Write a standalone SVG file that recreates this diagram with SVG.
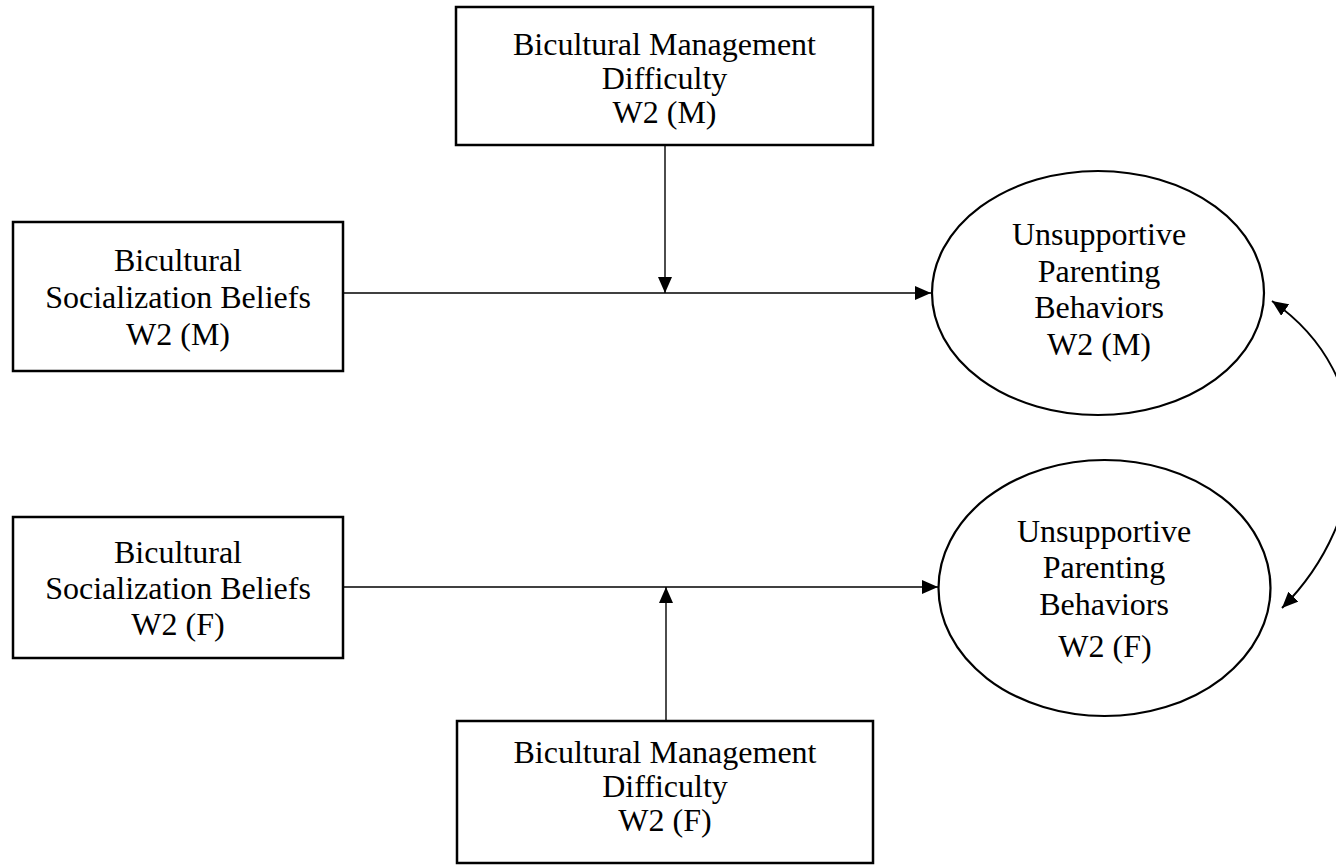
<svg xmlns="http://www.w3.org/2000/svg" width="1336" height="866" viewBox="0 0 1336 866">
  <style>
    .box { fill: #ffffff; stroke: #000000; stroke-width: 2.5; }
    .oval { fill: #ffffff; stroke: #000000; stroke-width: 2.2; }
    .label { font-family: "Liberation Serif", "Times New Roman", serif; font-size: 32px; fill: #000000; text-anchor: middle; }
    .edge { fill: none; stroke: #000000; stroke-width: 1.4; }
    .curve { stroke-width: 1.9; }
    .arrow { marker-end: url(#head); }
    .both { marker-start: url(#head); marker-end: url(#head); }
  </style>
  <defs>
    <marker id="head" viewBox="0 0 16 14" refX="16" refY="7" markerWidth="16" markerHeight="14" markerUnits="userSpaceOnUse" orient="auto-start-reverse">
      <path d="M0,0 L16,7 L0,14 Z" fill="#000000"/>
    </marker>
  </defs>

  <!-- Connectors -->
  <g id="connectors">
    <line class="edge arrow" x1="343" y1="293" x2="931" y2="293"/>
    <line class="edge arrow" x1="665" y1="145" x2="665" y2="293"/>
    <line class="edge arrow" x1="343" y1="587" x2="938" y2="587"/>
    <line class="edge arrow" x1="666" y1="721" x2="666" y2="587"/>
    <path class="edge curve both" d="M1272,301 C1382,377 1372,518 1282,608"/>
  </g>

  <!-- Moderator, mothers -->
  <g id="bmd-m">
    <rect class="box" x="456" y="7" width="417" height="138"/>
    <text class="label" x="664.5" y="55">Bicultural Management</text>
    <text class="label" x="664.5" y="89">Difficulty</text>
    <text class="label" x="664.5" y="123">W2 (M)</text>
  </g>

  <!-- Predictor, mothers -->
  <g id="bsb-m">
    <rect class="box" x="13" y="222" width="330" height="149"/>
    <text class="label" x="178" y="271">Bicultural</text>
    <text class="label" x="178" y="308">Socialization Beliefs</text>
    <text class="label" x="178" y="345">W2 (M)</text>
  </g>

  <!-- Outcome, mothers -->
  <g id="upb-m">
    <ellipse class="oval" cx="1098" cy="293" rx="166" ry="122"/>
    <text class="label" x="1099" y="245">Unsupportive</text>
    <text class="label" x="1099" y="282">Parenting</text>
    <text class="label" x="1099" y="318">Behaviors</text>
    <text class="label" x="1099" y="355">W2 (M)</text>
  </g>

  <!-- Predictor, fathers -->
  <g id="bsb-f">
    <rect class="box" x="13" y="517" width="330" height="141"/>
    <text class="label" x="178" y="563">Bicultural</text>
    <text class="label" x="178" y="599">Socialization Beliefs</text>
    <text class="label" x="178" y="635">W2 (F)</text>
  </g>

  <!-- Outcome, fathers -->
  <g id="upb-f">
    <ellipse class="oval" cx="1104.5" cy="588" rx="166" ry="128"/>
    <text class="label" x="1104" y="542">Unsupportive</text>
    <text class="label" x="1104" y="578">Parenting</text>
    <text class="label" x="1104" y="615">Behaviors</text>
    <text class="label" x="1105" y="657">W2 (F)</text>
  </g>

  <!-- Moderator, fathers -->
  <g id="bmd-f">
    <rect class="box" x="457" y="721" width="416" height="142"/>
    <text class="label" x="665" y="763">Bicultural Management</text>
    <text class="label" x="665" y="797">Difficulty</text>
    <text class="label" x="665" y="831">W2 (F)</text>
  </g>
</svg>
